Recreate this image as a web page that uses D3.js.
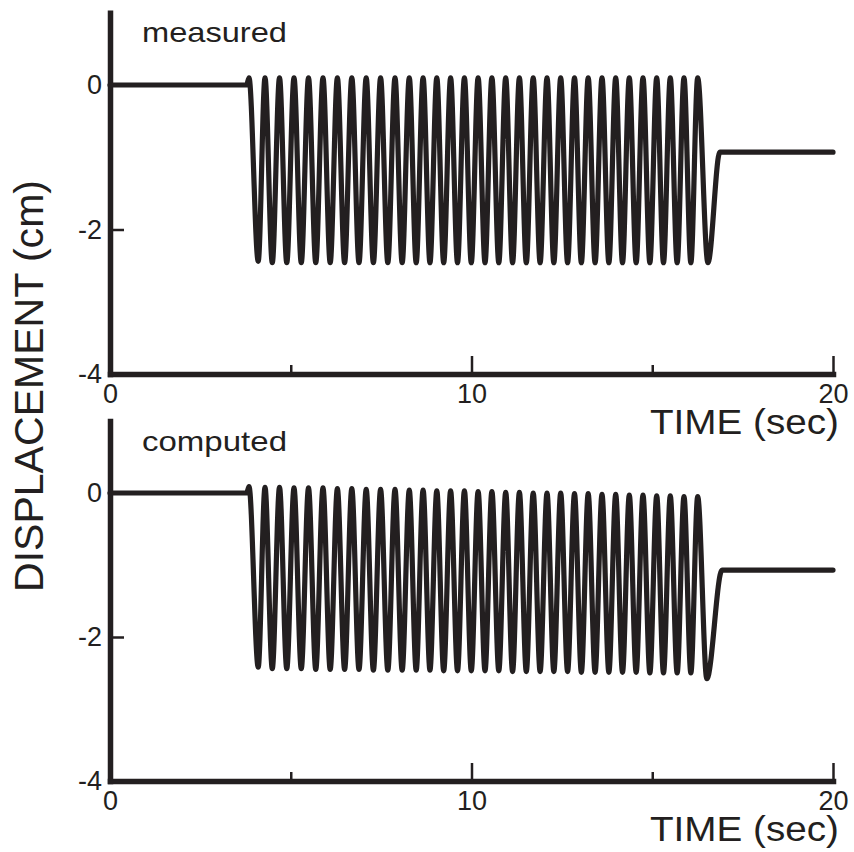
<!DOCTYPE html>
<html><head><meta charset="utf-8">
<script src="https://cdn.jsdelivr.net/npm/d3@7/dist/d3.min.js"></script>
<style>body{margin:0;background:#fff}svg{display:block}</style>
</head><body>
<svg id="chart" width="854" height="852"></svg>
<script>
// ---------------- data ----------------
const xTicksMajor = [0, 10, 20];
const xTicksMinor = [5, 15];
const yTicks = [0, -2, -4];
const panelLabels = ["measured", "computed"];
const xAxisTitle = "TIME (sec)";
const yAxisTitle = "DISPLACEMENT (cm)";

// times (sec) of the oscillation crests and troughs
const peakTimes = [4.288, 4.689, 5.090, 5.491, 5.892, 6.290, 6.689, 7.087, 7.485, 7.884,
  8.279, 8.661, 9.040, 9.422, 9.804, 10.183, 10.564, 10.946, 11.325, 11.707, 12.089,
  12.467, 12.849, 13.228, 13.610, 13.989, 14.365, 14.744, 15.123, 15.499, 15.878, 16.257];
const troughTimes = [4.489, 4.890, 5.291, 5.692, 6.091, 6.490, 6.888, 7.286, 7.685, 8.082,
  8.470, 8.851, 9.231, 9.613, 9.994, 10.374, 10.755, 11.136, 11.516, 11.898, 12.278,
  12.658, 13.039, 13.419, 13.800, 14.177, 14.555, 14.934, 15.311, 15.689, 16.068];

// measured
const measuredLeadTime = [0, 3.78, 3.845, 4.10];
const measuredLeadDisp = [0, 0, 0.10, -2.44];
const measuredPeaks = [0.10, 0.10, 0.10, 0.10, 0.10, 0.10, 0.10, 0.10, 0.10, 0.10, 0.10, 0.10,
  0.10, 0.10, 0.10, 0.10, 0.10, 0.10, 0.10, 0.10, 0.10, 0.10, 0.10, 0.10, 0.10, 0.10, 0.10,
  0.10, 0.10, 0.10, 0.10, 0.10];
const measuredTroughs = [-2.46, -2.46, -2.46, -2.46, -2.46, -2.46, -2.46, -2.46, -2.46, -2.46,
  -2.46, -2.46, -2.46, -2.46, -2.46, -2.46, -2.46, -2.46, -2.46, -2.46, -2.46, -2.46, -2.46,
  -2.46, -2.46, -2.46, -2.46, -2.46, -2.46, -2.46, -2.46];
const measuredTailTime = [16.54, 16.87, 20];
const measuredTailDisp = [-2.46, -0.93, -0.93];

// computed
const computedLeadTime = [0, 3.78, 3.845, 4.10];
const computedLeadDisp = [0, 0, 0.09, -2.42];
const computedPeaks = [0.08, 0.08, 0.07, 0.07, 0.07, 0.06, 0.06, 0.05, 0.05, 0.05, 0.04, 0.04,
  0.03, 0.03, 0.03, 0.02, 0.02, 0.01, 0.01, 0.00, 0.00, 0.00, -0.01, -0.01, -0.02, -0.02,
  -0.03, -0.03, -0.04, -0.04, -0.05, -0.05];
const computedTroughs = [-2.44, -2.44, -2.44, -2.45, -2.45, -2.45, -2.45, -2.46, -2.46, -2.46,
  -2.46, -2.46, -2.47, -2.47, -2.47, -2.47, -2.47, -2.48, -2.48, -2.48, -2.48, -2.48, -2.49,
  -2.49, -2.49, -2.49, -2.49, -2.50, -2.50, -2.50, -2.50];
const computedTailTime = [16.51, 16.93, 20];
const computedTailDisp = [-2.58, -1.07, -1.07];

// ---------------- build series ----------------
function buildSeries(leadT, leadV, peaks, troughs, tailT, tailV) {
  const pts = leadT.map((t, i) => [t, leadV[i]]);
  peakTimes.forEach((t, i) => {
    pts.push([t, peaks[i]]);
    if (i < troughTimes.length) pts.push([troughTimes[i], troughs[i]]);
  });
  tailT.forEach((t, i) => pts.push([t, tailV[i]]));
  return pts;
}
const series = [
  buildSeries(measuredLeadTime, measuredLeadDisp, measuredPeaks, measuredTroughs, measuredTailTime, measuredTailDisp),
  buildSeries(computedLeadTime, computedLeadDisp, computedPeaks, computedTroughs, computedTailTime, computedTailDisp)
];

// ---------------- drawing ----------------
const INK = "#231f20";
const FONT = "'Liberation Sans', Arial, Helvetica, sans-serif";
const svg = d3.select("#chart");
svg.append("rect").attr("width", 854).attr("height", 852).attr("fill", "#fff");

const x = d3.scaleLinear().domain([0, 20]).range([110, 833]);
const panelRanges = [[374, 12.75], [781, 421]];
const fmt = d => String(d);   // plain hyphen-minus like the reference

panelRanges.forEach((yr, p) => {
  const y = d3.scaleLinear().domain([-4, 1]).range(yr);
  const g = svg.append("g");

  // minor x ticks
  const gMinor = g.append("g").attr("transform", `translate(0,${y(-4)})`)
    .call(d3.axisBottom(x).tickValues(xTicksMinor).tickSizeInner(-9).tickSizeOuter(0).tickFormat(""));
  gMinor.select(".domain").remove();

  // major x axis
  const gx = g.append("g").attr("transform", `translate(0,${y(-4)})`)
    .call(d3.axisBottom(x).tickValues(xTicksMajor).tickSizeInner(-18).tickSizeOuter(0)
      .tickPadding(10).tickFormat(fmt));

  // y axis
  const gy = g.append("g").attr("transform", `translate(${x(0)},0)`)
    .call(d3.axisLeft(y).tickValues(yTicks).tickSizeInner(-14).tickSizeOuter(0)
      .tickPadding(8).tickFormat(fmt));

  [gMinor, gx, gy].forEach(a => {
    a.selectAll(".tick line").attr("stroke", INK).attr("stroke-width", 2.5);
    a.selectAll(".domain").attr("stroke", INK).attr("stroke-width", 5.5).attr("stroke-linecap", "square");
    a.selectAll("text").attr("fill", INK).style("font-family", FONT).style("font-size", "27px");
  });

  // data line
  g.append("path").datum(series[p])
    .attr("fill", "none").attr("stroke", INK).attr("stroke-width", 5.2)
    .attr("stroke-linejoin", "round").attr("stroke-linecap", "round")
    .attr("d", d3.line().x(d => x(d[0])).y(d => y(d[1])).curve(d3.curveMonotoneX));

  // panel label
  g.append("text").attr("x", 142).attr("y", y(1) + 29.5)
    .attr("textLength", 145).attr("lengthAdjust", "spacingAndGlyphs")
    .attr("fill", INK).style("font-family", FONT).style("font-size", "28px")
    .text(panelLabels[p]);

  // x axis title
  g.append("text").attr("x", 650).attr("y", y(-4) + 60)
    .attr("textLength", 189).attr("lengthAdjust", "spacingAndGlyphs")
    .attr("fill", INK).style("font-family", FONT).style("font-size", "35px")
    .text(xAxisTitle);
});

// y axis title
svg.append("text")
  .attr("transform", "translate(43,386) rotate(-90)")
  .attr("text-anchor", "middle")
  .attr("textLength", 412).attr("lengthAdjust", "spacingAndGlyphs")
  .attr("fill", INK).style("font-family", FONT).style("font-size", "41px")
  .text(yAxisTitle);
</script>
</body></html>
